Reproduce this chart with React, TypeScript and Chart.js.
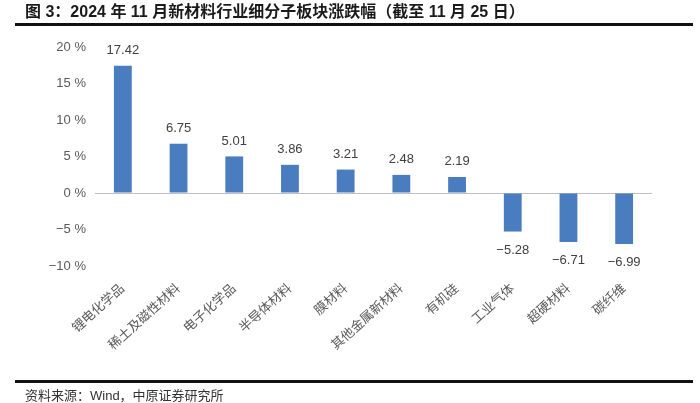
import React, { useEffect, useRef } from "react";
import { Chart, registerables } from "chart.js";

Chart.register(...registerables);

const categories = [
  "锂电化学品",
  "稀土及磁性材料",
  "电子化学品",
  "半导体材料",
  "膜材料",
  "其他金属新材料",
  "有机硅",
  "工业气体",
  "超硬材料",
  "碳纤维",
];
const values = [17.42, 6.75, 5.01, 3.86, 3.21, 2.48, 2.19, -5.28, -6.71, -6.99];
const yMin = -10;
const yMax = 20;
const yStep = 5;

const titleText = "图 3：2024 年 11 月新材料行业细分子板块涨跌幅（截至 11 月 25 日）";
const sourceText = "资料来源：Wind，中原证券研究所";

const BAR_COLOR = "#4a7dc0";
const CJK = '"Liberation Sans", "Noto Sans CJK SC", sans-serif';

const fmt = (v: number) => (v < 0 ? "−" + Math.abs(v).toFixed(2) : v.toFixed(2));

const valueLabels = {
  id: "valueLabels",
  afterDatasetsDraw(chart: any) {
    const ctx = chart.ctx;
    const meta = chart.getDatasetMeta(0);
    ctx.save();
    ctx.font = '13px "Liberation Sans", "Noto Sans CJK SC", sans-serif';
    ctx.fillStyle = "#404040";
    ctx.textAlign = "center";
    meta.data.forEach((bar: any, i: number) => {
      const v = values[i];
      if (v >= 0) {
        ctx.textBaseline = "bottom";
        ctx.fillText(fmt(v), bar.x, bar.y - 9);
      } else {
        ctx.textBaseline = "top";
        ctx.fillText(fmt(v), bar.x, bar.y + 12);
      }
    });
    ctx.restore();
  },
};

export default function App() {
  const ref = useRef<HTMLCanvasElement | null>(null);

  useEffect(() => {
    document.body.style.margin = "0";
    if (!ref.current) return;
    const chart = new Chart(ref.current, {
      type: "bar",
      data: {
        labels: categories,
        datasets: [
          {
            data: values,
            backgroundColor: BAR_COLOR,
            barPercentage: 0.32,
            categoryPercentage: 1,
          },
        ],
      },
      options: {
        animation: false,
        responsive: false,
        devicePixelRatio: 1,
        layout: { padding: { left: 35, top: 47, right: 48, bottom: 27 } },
        plugins: { legend: { display: false }, tooltip: { enabled: false } },
        scales: {
          x: {
            grid: { display: false, drawTicks: false },
            border: { display: false },
            ticks: {
              autoSkip: false,
              maxRotation: 42,
              minRotation: 42,
              padding: 15,
              color: "#595959",
              font: { size: 13, family: CJK },
            },
            afterFit: (s: any) => {
              s.height = 110;
            },
          },
          y: {
            min: yMin,
            max: yMax,
            border: { display: false },
            grid: {
              drawTicks: false,
              color: (c: any) => (c.tick && c.tick.value === 0 ? "#bfbfbf" : "rgba(0,0,0,0)"),
              lineWidth: 1,
            },
            ticks: {
              stepSize: yStep,
              padding: 9,
              color: "#595959",
              font: { size: 13, family: CJK },
              callback: (v: any) => (v < 0 ? "−" + Math.abs(v) : String(v)) + " %",
            },
            afterFit: (s: any) => {
              s.width = 60;
            },
          },
        },
      },
      plugins: [valueLabels],
    });
    return () => chart.destroy();
  }, []);

  return (
    <div style={{ position: "relative", width: 700, height: 403, background: "#fff", overflow: "hidden" }}>
      <canvas ref={ref} width={700} height={403} style={{ position: "absolute", left: 0, top: 0 }} />
      <div
        style={{
          position: "absolute",
          left: 25,
          top: 3,
          fontFamily: CJK,
          fontWeight: 700,
          fontSize: 16,
          color: "#1a1a1a",
          whiteSpace: "nowrap",
          lineHeight: "18px",
        }}
      >
        {titleText}
      </div>
      <div style={{ position: "absolute", left: 15, top: 23, width: 678, height: 3, background: "#111" }} />
      <div style={{ position: "absolute", left: 15, top: 380, width: 678, height: 2.5, background: "#111" }} />
      <div
        style={{
          position: "absolute",
          left: 25,
          top: 388,
          fontFamily: CJK,
          fontSize: 13,
          color: "#333",
          whiteSpace: "nowrap",
          lineHeight: "15px",
        }}
      >
        {sourceText}
      </div>
    </div>
  );
}
